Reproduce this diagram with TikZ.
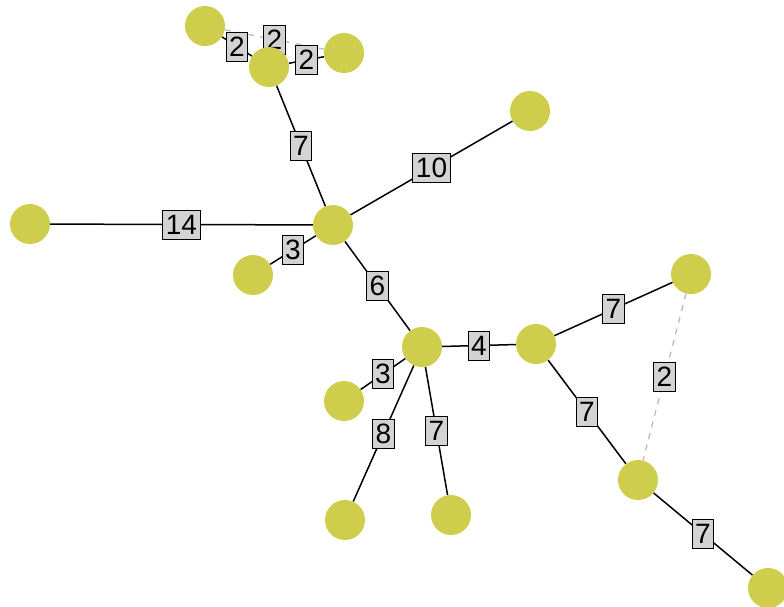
\documentclass[tikz,border=0pt]{standalone}
\usepackage{fontspec}
\setmainfont{Liberation Sans}
\usetikzlibrary{backgrounds}
\definecolor{vertexcol}{RGB}{206,206,76}
\definecolor{boxcol}{RGB}{211,211,211}
\definecolor{dashcol}{RGB}{187,187,187}
\tikzset{
  vertex/.style={circle,fill=vertexcol,minimum size=40pt,inner sep=0pt},
  wbox/.style={draw=black,fill=boxcol,text=black,solid,line width=0.9pt,inner xsep=3pt,inner ysep=4pt,
    text height=20pt,text depth=1pt,font=\fontsize{28}{30}\selectfont,midway},
  tree/.style={black,line width=1.5pt},
  extra/.style={dashcol,line width=1.3pt,dash pattern=on 6pt off 6pt}
}

\begin{document}
\begin{tikzpicture}[x=1pt,y=-1pt]
\useasboundingbox (0,0) rectangle (784,606);
\clip (0,0) rectangle (784,606);

%vertices
\node[vertex] (a) at (205,26) {};
\node[vertex] (b) at (269,67) {};
\node[vertex] (c) at (344,53) {};
\node[vertex] (d) at (530,111) {};
\node[vertex] (e) at (333,225) {};
\node[vertex] (f) at (30,224) {};
\node[vertex] (g) at (253,275) {};
\node[vertex] (h) at (422,347) {};
\node[vertex] (i) at (536,344) {};
\node[vertex] (j) at (691,274) {};
\node[vertex] (k) at (344,401) {};
\node[vertex] (l) at (345,520) {};
\node[vertex] (m) at (451,515) {};
\node[vertex] (n) at (638,480) {};
\node[vertex] (o) at (768,588) {};

%edges with weights
\begin{pgfonlayer}{background}
\draw[extra] (a) -- node[wbox] {2} (c);
\draw[extra] (j) -- node[wbox] {2} (n);
\draw[tree] (a) -- node[wbox] {2} (b);
\draw[tree] (b) -- node[wbox] {2} (c);
\draw[tree] (b) -- node[wbox] {7} (e);
\draw[tree] (e) -- node[wbox] {10} (d);
\draw[tree] (f) -- node[wbox] {14} (e);
\draw[tree] (e) -- node[wbox] {3} (g);
\draw[tree] (e) -- node[wbox] {6} (h);
\draw[tree] (h) -- node[wbox] {4} (i);
\draw[tree] (i) -- node[wbox] {7} (j);
\draw[tree] (i) -- node[wbox] {7} (n);
\draw[tree] (n) -- node[wbox] {7} (o);
\draw[tree] (h) -- node[wbox] {3} (k);
\draw[tree] (h) -- node[wbox] {8} (l);
\draw[tree] (h) -- node[wbox] {7} (m);
\end{pgfonlayer}
\end{tikzpicture}
\end{document}
